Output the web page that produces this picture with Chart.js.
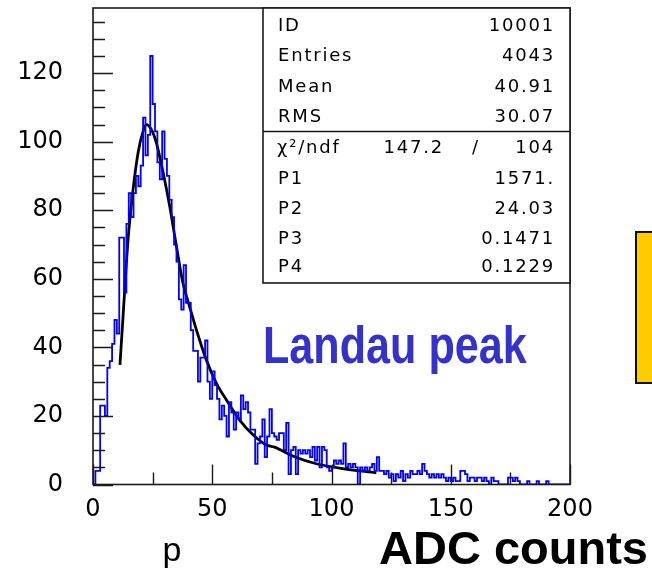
<!DOCTYPE html>
<html>
<head>
<meta charset="utf-8">
<script src="https://cdn.jsdelivr.net/npm/chart.js@4/dist/chart.umd.min.js"></script>
<style>
  html, body { margin: 0; padding: 0; background: #fff; }
  #wrap { position: relative; width: 652px; height: 570px; overflow: hidden; }
</style>
</head>
<body>
<div id="wrap"><canvas id="c" width="652" height="570"></canvas></div>
<script>
// ADC spectrum, one count value per 1-count-wide bin, from 0 to 200
const binWidth = 1;
const counts = [
  0, 0, 4, 4, 23, 23, 20, 34, 36, 41,
  48, 44, 72, 72, 56, 76, 85, 78, 85, 90,
  87, 93, 107, 96, 102, 125, 111, 103, 94, 89,
  103, 95, 90, 83, 78, 70, 65, 54, 51, 64,
  53, 53, 45, 39, 39, 30, 37, 37, 42, 30,
  25, 33, 29, 25, 19, 23, 20, 14, 24, 21,
  16, 21, 19, 26, 22, 24, 21, 16, 16, 6,
  12, 14, 19, 8, 14, 22, 15, 14, 13, 15,
  15, 10, 18, 3, 10, 11, 3, 10, 9, 10,
  9, 10, 8, 11, 7, 11, 5, 11, 10, 5,
  4, 5, 7, 6, 7, 6, 12, 5, 6, 5,
  6, 5, 0, 5, 4, 5, 4, 5, 6, 4,
  8, 4, 4, 3, 4, 2, 3, 1, 3, 2,
  4, 1, 3, 2, 4, 3, 3, 4, 3, 6,
  4, 3, 2, 3, 2, 3, 2, 3, 2, 1,
  2, 1, 2, 1, 1, 4, 4, 3, 1, 2,
  2, 1, 2, 2, 1, 2, 1, 0, 2, 1,
  1, 0, 0, 0, 0, 2, 2, 1, 2, 1,
  0, 0, 0, 1, 0, 0, 0, 1, 0, 0,
  0, 1, 0, 0, 0, 0, 0, 0, 0, 0
];

// Landau fit curve sampled along its length
const fitX = [11.3, 12.6, 14.7, 16.8, 18.9, 21.0, 22.4, 24.5, 26.6, 29.4, 32.2, 35.0, 37.7, 40.5, 43.4, 47.5, 51.7, 55.9, 61.5, 67.1, 72.7, 76.1, 84.5, 92.9, 104.0, 118.8];
const fitY = [34.9, 49.0, 71.4, 86.0, 96.8, 103.0, 105.0, 103.5, 99.6, 91.0, 81.0, 69.4, 58.8, 51.9, 45.0, 36.4, 29.6, 24.7, 18.8, 14.5, 11.5, 10.9, 8.1, 6.2, 4.7, 3.4];

// Axis ticks
const xTickValues = [0, 50, 100, 150, 200];
const yTickValues = [0, 20, 40, 60, 80, 100, 120];

// Statistics box contents
const statLabels = ['ID', 'Entries', 'Mean', 'RMS'];
const statValues = ['10001', '4043', '40.91', '30.07'];
const chiLabel = 'χ²/ndf';
const chiValue = '147.2';
const ndfValue = '104';
const parLabels = ['P1', 'P2', 'P3', 'P4'];
const parValues = ['1571.', '24.03', '0.1471', '0.1229'];

const peakLabel = 'Landau peak';
const xTitle = 'ADC counts';
const sideLabel = 'p';

// Histogram outline: each bin starts at its left edge, closed at the last edge
const histPoints = counts.map((c, i) => ({ x: i * binWidth, y: c }));
histPoints.push({ x: counts.length * binWidth, y: counts[counts.length - 1] });
const fitPoints = fitX.map((x, i) => ({ x, y: fitY[i] }));

const frameColor = '#1a1a1a';

const decorations = {
  id: 'decorations',
  afterDatasetsDraw(chart) {
    const { ctx, chartArea: a, scales } = chart;
    const xs = scales.x, ys = scales.y;
    ctx.save();

    // inward ticks on the left axis: major every 20, minor every 5
    ctx.strokeStyle = frameColor;
    ctx.lineWidth = 1.4;
    ctx.beginPath();
    for (let v = 0; v <= ys.max; v += 5) {
      const y = Math.round(ys.getPixelForValue(v)) + 0.5;
      const len = v % 20 === 0 ? 20 : 12;
      ctx.moveTo(a.left, y);
      ctx.lineTo(a.left + len, y);
    }
    // inward ticks on the bottom axis: major every 50, minor every 25
    for (let v = 0; v <= xs.max; v += 25) {
      const x = Math.round(xs.getPixelForValue(v)) + 0.5;
      const len = v % 50 === 0 ? 20 : 12;
      ctx.moveTo(x, a.bottom);
      ctx.lineTo(x, a.bottom - len);
    }
    ctx.stroke();

    // frame
    ctx.lineWidth = 1.6;
    ctx.strokeRect(a.left, a.top, a.right - a.left, a.bottom - a.top);

    // statistics box in the upper right corner
    const bx = 263, by = a.top, bw = a.right - 263, bh = 283 - a.top;
    ctx.fillStyle = '#fff';
    ctx.fillRect(bx, by, bw, bh);
    ctx.strokeRect(bx, by, bw, bh);
    ctx.beginPath();
    ctx.moveTo(bx, 131.5);
    ctx.lineTo(bx + bw, 131.5);
    ctx.stroke();

    ctx.fillStyle = '#000';
    ctx.font = '18px "DejaVu Sans"';
    ctx.letterSpacing = '1.8px';
    ctx.textBaseline = 'middle';
    const rowsTop = [26, 56, 87, 117];
    const rowsBot = [179, 209, 239, 267];
    const lx = 278, rx = 555;
    statLabels.forEach((t, i) => {
      ctx.textAlign = 'left';
      ctx.fillText(t, lx, rowsTop[i]);
      ctx.textAlign = 'right';
      ctx.fillText(statValues[i], rx, rowsTop[i]);
    });
    ctx.textAlign = 'left';
    ctx.fillText(chiLabel, lx - 1, 148);
    ctx.textAlign = 'right';
    ctx.fillText(chiValue, 444, 148);
    ctx.textAlign = 'center';
    ctx.fillText('/', 476, 148);
    ctx.textAlign = 'right';
    ctx.fillText(ndfValue, rx, 148);
    parLabels.forEach((t, i) => {
      ctx.textAlign = 'left';
      ctx.fillText(t, lx, rowsBot[i]);
      ctx.textAlign = 'right';
      ctx.fillText(parValues[i], rx, rowsBot[i]);
    });
    ctx.letterSpacing = '0px';

    // peak annotation
    ctx.save();
    ctx.fillStyle = '#3333cc';
    ctx.font = 'bold 51px "Liberation Sans"';
    ctx.textAlign = 'left';
    ctx.textBaseline = 'alphabetic';
    ctx.translate(263, 363);
    ctx.scale(0.846, 1);
    ctx.fillText(peakLabel, 0, 0);
    ctx.restore();

    // labels under the axis
    ctx.fillStyle = '#000';
    ctx.textBaseline = 'alphabetic';
    ctx.font = 'bold 47px "Liberation Sans"';
    ctx.textAlign = 'right';
    ctx.fillText(xTitle, 648, 564);
    ctx.font = '34px "Liberation Sans"';
    ctx.textAlign = 'center';
    ctx.fillText(sideLabel, 172, 561);

    // side panel edge
    ctx.fillStyle = '#ffcc00';
    ctx.fillRect(636, 232, 30, 151);
    ctx.strokeStyle = '#111';
    ctx.lineWidth = 2;
    ctx.strokeRect(636, 232, 30, 151);

    ctx.restore();
  }
};

new Chart(document.getElementById('c'), {
  type: 'line',
  data: {
    datasets: [
      {
        data: histPoints,
        stepped: 'after',
        borderColor: '#0000ff',
        borderWidth: 1.8,
        pointRadius: 0,
        fill: false
      },
      {
        data: fitPoints,
        borderColor: '#000',
        borderWidth: 2.8,
        pointRadius: 0,
        cubicInterpolationMode: 'monotone',
        fill: false
      }
    ]
  },
  options: {
    responsive: false,
    animation: false,
    events: [],
    layout: { padding: { top: 8, right: 82, left: 0, bottom: 0 } },
    plugins: { legend: { display: false }, tooltip: { enabled: false } },
    scales: {
      x: {
        type: 'linear',
        min: 0,
        max: 200,
        afterBuildTicks(scale) { scale.ticks = xTickValues.map(v => ({ value: v })); },
        afterFit(scale) {
          scale.height = 85.5;
          scale.paddingLeft = 0;
          scale.paddingRight = 0;
        },
        ticks: {
          color: '#000',
          padding: 11,
          maxRotation: 0,
          font: { family: 'DejaVu Sans', size: 24 }
        },
        grid: { drawOnChartArea: false, drawTicks: false },
        border: { display: false }
      },
      y: {
        type: 'linear',
        min: 0,
        max: 139,
        afterBuildTicks(scale) { scale.ticks = yTickValues.map(v => ({ value: v })); },
        afterFit(scale) {
          scale.width = 93;
          scale.paddingTop = 0;
          scale.paddingBottom = 0;
        },
        ticks: {
          color: '#000',
          padding: 30,
          font: { family: 'DejaVu Sans', size: 24 }
        },
        grid: { drawOnChartArea: false, drawTicks: false },
        border: { display: false }
      }
    }
  },
  plugins: [decorations]
});
</script>
</body>
</html>
